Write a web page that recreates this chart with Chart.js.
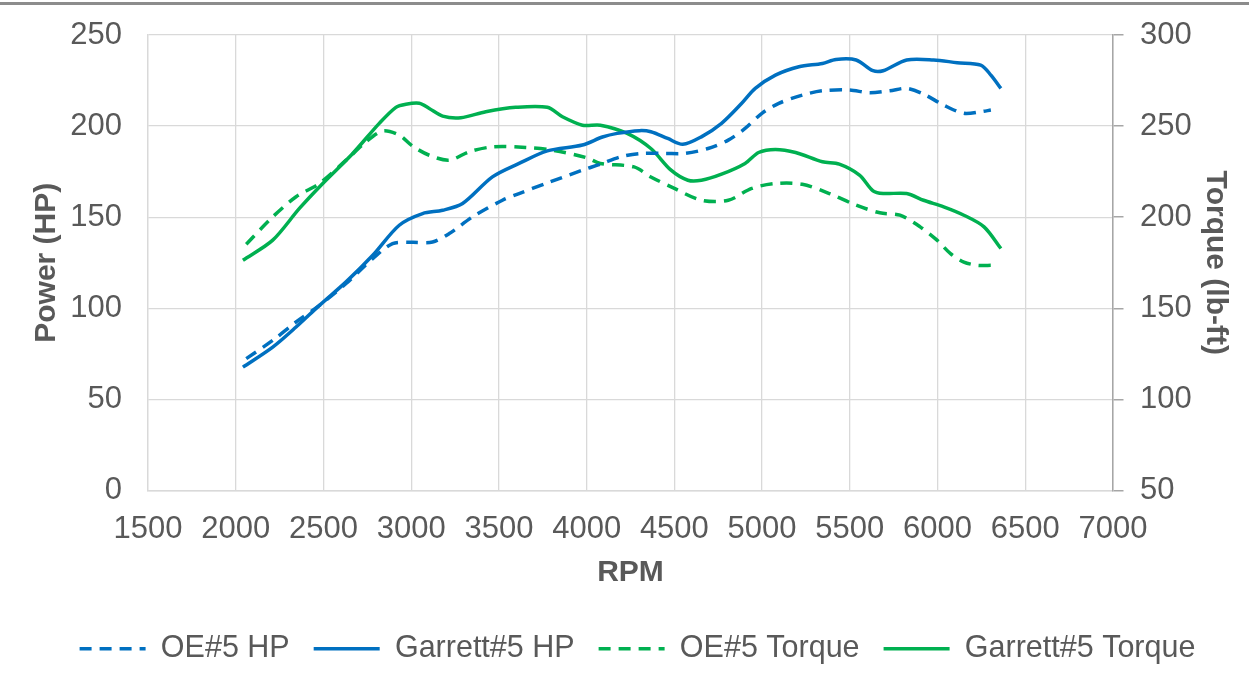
<!DOCTYPE html>
<html>
<head>
<meta charset="utf-8">
<title>Power and Torque vs RPM</title>
<script src="https://cdn.jsdelivr.net/npm/chart.js@4.4.1/dist/chart.umd.min.js"></script>
<style>
    html, body { margin: 0; padding: 0; background: #ffffff; }
    #wrap { position: relative; width: 1249px; height: 687px; }
    #topRule { position: absolute; left: 0; top: 2px; width: 1249px; height: 3px; background: #8c8c8c; }
    canvas { position: absolute; left: 0; top: 0; }
</style>
</head>
<body>
<div id="wrap">
    <canvas id="dyno-chart" width="1249" height="687"></canvas>
    <div id="topRule"></div>
</div>
<script>
// Dyno comparison - OE#5 vs Garrett#5, power (left axis) and torque (right axis)

const SERIES_LABELS = ['OE#5 HP', 'Garrett#5 HP', 'OE#5 Torque', 'Garrett#5 Torque'];

// OE#5 HP
const oeHpRpm = [2060, 2211, 2344, 2477, 2629, 2781, 2894, 3000, 3122, 3217, 3350, 3520, 3615, 3767,
    3976, 4078, 4193, 4308, 4450, 4558, 4692, 4807, 4903, 4999, 5095, 5229, 5344, 5498, 5613, 5728,
    5824, 5920, 6035, 6150, 6246, 6304];
const oeHpValues = [72.4, 82.4, 92.5, 101.6, 113.6, 127.3, 135.5, 136.2, 136.4, 141, 150.2, 159.3, 163, 168.5,
    175.8, 179.1, 183.1, 185, 185, 185, 187.7, 192.3, 198.7, 207, 212.5, 217, 219.4, 219.8, 218.3, 219.4,
    220.7, 217.6, 211.5, 207, 207.9, 208.8];

// Garrett#5 HP
const garrettHpRpm = [2041, 2211, 2344, 2477, 2629, 2781, 2932, 3065, 3179, 3293, 3463, 3615, 3776, 3976,
    4090, 4174, 4300, 4366, 4462, 4548, 4654, 4769, 4884, 4961, 5076, 5210, 5344, 5421, 5536, 5632,
    5690, 5824, 5978, 6112, 6246, 6304, 6361];
const garrettHpValues = [67.7, 78.7, 89.7, 101.6, 114.5, 129.1, 145.6, 152, 153.8, 157.5, 172.1, 179.5, 186.4, 189.6,
    194, 196, 197.5, 196.9, 193.2, 190, 194.1, 201.5, 212.5, 220.7, 228, 232.6, 234.4, 236.6, 236.3, 230.4,
    230.4, 236.3, 236.3, 234.8, 233.5, 228, 220.7];

// OE#5 Torque (lb-ft)
const oeTorqueRpm = [2060, 2211, 2344, 2477, 2629, 2743, 2837, 2932, 3008, 3103, 3217, 3331, 3463, 3653,
    3805, 3995, 4078, 4270, 4366, 4500, 4654, 4807, 4941, 5076, 5229, 5383, 5536, 5671, 5786, 5901,
    5997, 6074, 6150, 6227, 6313];
const oeTorqueValues = [185.2, 200.2, 211.2, 218.5, 231.3, 241.4, 247.3, 245, 239, 234, 231.3, 235.9, 238.6, 238.3,
    236.8, 232.8, 229.5, 227.6, 222.1, 215.8, 209.3, 209.3, 215.8, 218.5, 218.1, 213, 206.6, 202.4, 201.1, 194.7,
    187.4, 180, 175.4, 173.6, 173.6];

// Garrett#5 Torque (lb-ft)
const garrettTorqueRpm = [2041, 2211, 2363, 2496, 2667, 2818, 2913, 2970, 3046, 3103, 3179, 3283, 3425, 3596,
    3776, 3862, 3976, 4078, 4231, 4366, 4481, 4577, 4654, 4769, 4903, 4980, 5076, 5191, 5344, 5440,
    5555, 5632, 5690, 5824, 5920, 6035, 6150, 6265, 6361];
const garrettTorqueValues = [176.4, 187.4, 204.8, 218.5, 235, 251.5, 260.3, 262, 262.5, 259.7, 255.5, 254.6, 257.9, 260.3,
    260.3, 255.1, 250.5, 250.5, 246, 237.7, 225.8, 220.3, 220.3, 223.6, 229.5, 235.5, 237.2, 235.5, 230.4, 229.1,
    223.1, 214.5, 213, 213, 209.3, 205.7, 201.1, 194.7, 182.8];

// Axis ranges / ticks
const RPM_MIN = 1500, RPM_MAX = 7000, RPM_STEP = 500;
const HP_MIN = 0, HP_MAX = 250, HP_STEP = 50;
const TQ_MIN = 50, TQ_MAX = 300, TQ_STEP = 50;

const BLUE = '#0070C0';
const GREEN = '#00B050';
const TEXT = '#595959';
const GRID = '#d9d9d9';
const AXIS = '#a6a6a6';
const FONT = "'Liberation Sans', Arial, sans-serif";
const LINE_WIDTH = 3.5;
const DASH = [12, 8];

function toPoints(xs, ys) {
    return xs.map((x, i) => ({ x: x, y: ys[i] }));
}

function makeSeries(label, xs, ys, color, dashed, axis) {
    return {
        label: label,
        data: toPoints(xs, ys),
        yAxisID: axis,
        borderColor: color,
        backgroundColor: color,
        borderWidth: LINE_WIDTH,
        borderDash: dashed ? DASH : [],
        pointRadius: 0,
        fill: false,
        tension: 0.3
    };
}

// plain numbers, no thousands separator
function plainTick(value) {
    return String(value);
}

function initializeDynoChart() {
    const ctx = document.getElementById('dyno-chart').getContext('2d');

    Chart.defaults.font.family = FONT;
    Chart.defaults.color = TEXT;

    const defaultLabels = Chart.defaults.plugins.legend.labels.generateLabels;

    new Chart(ctx, {
        type: 'line',
        data: {
            datasets: [
                makeSeries(SERIES_LABELS[0], oeHpRpm, oeHpValues, BLUE, true, 'y'),
                makeSeries(SERIES_LABELS[1], garrettHpRpm, garrettHpValues, BLUE, false, 'y'),
                makeSeries(SERIES_LABELS[2], oeTorqueRpm, oeTorqueValues, GREEN, true, 'y1'),
                makeSeries(SERIES_LABELS[3], garrettTorqueRpm, garrettTorqueValues, GREEN, false, 'y1')
            ]
        },
        options: {
            responsive: false,
            animation: false,
            layout: {
                padding: { left: 26, right: 0, top: 35, bottom: 13 }
            },
            plugins: {
                tooltip: { enabled: false },
                legend: {
                    position: 'bottom',
                    labels: {
                        color: TEXT,
                        font: { size: 30.5, family: FONT },
                        usePointStyle: true,
                        pointStyle: 'line',
                        pointStyleWidth: 66,
                        padding: 24,
                        // point style legend ignores the line dash, so copy it from the dataset
                        generateLabels: function(chart) {
                            return defaultLabels(chart).map(item => {
                                const ds = chart.data.datasets[item.datasetIndex];
                                item.lineDash = ds.borderDash;
                                item.lineWidth = LINE_WIDTH;
                                item.strokeStyle = ds.borderColor;
                                return item;
                            });
                        }
                    }
                }
            },
            scales: {
                x: {
                    type: 'linear',
                    min: RPM_MIN,
                    max: RPM_MAX,
                    afterFit: function(scale) { scale.height = 119; },
                    grid: { color: GRID, lineWidth: 1.3, drawTicks: false },
                    border: { color: GRID, width: 1.5 },
                    ticks: {
                        stepSize: RPM_STEP,
                        color: TEXT,
                        padding: 20,
                        maxRotation: 0,
                        font: { size: 31 },
                        callback: plainTick
                    },
                    title: {
                        display: true,
                        text: 'RPM',
                        color: TEXT,
                        font: { size: 30, weight: 'bold' },
                        padding: { top: 0, bottom: 19 }
                    }
                },
                y: {
                    position: 'left',
                    min: HP_MIN,
                    max: HP_MAX,
                    afterFit: function(scale) { scale.width = 122; },
                    // invisible tick marks only push the labels away from the plot
                    grid: { color: GRID, lineWidth: 1.3, drawTicks: true, tickLength: 23, tickColor: 'rgba(0,0,0,0)' },
                    border: { color: GRID, width: 1.3 },
                    ticks: {
                        stepSize: HP_STEP,
                        color: TEXT,
                        padding: 3,
                        font: { size: 31 },
                        callback: plainTick
                    },
                    title: {
                        display: true,
                        text: 'Power (HP)',
                        color: TEXT,
                        font: { size: 30, weight: 'bold' },
                        padding: { top: 3, bottom: 0 }
                    }
                },
                y1: {
                    position: 'right',
                    min: TQ_MIN,
                    max: TQ_MAX,
                    afterFit: function(scale) { scale.width = 136; },
                    // 10px visible tick, rest of the length is a gap before the labels
                    grid: { drawOnChartArea: false, color: AXIS, lineWidth: 1.5, tickLength: 24, tickBorderDash: [10, 40] },
                    border: { color: AXIS, width: 1.5 },
                    ticks: {
                        stepSize: TQ_STEP,
                        color: TEXT,
                        padding: 3,
                        font: { size: 31 },
                        callback: plainTick
                    },
                    title: {
                        display: true,
                        text: 'Torque (lb-ft)',
                        color: TEXT,
                        font: { size: 30, weight: 'bold' },
                        padding: { top: 16, bottom: 0 }
                    }
                }
            }
        }
    });
}

document.addEventListener('DOMContentLoaded', initializeDynoChart);
</script>
</body>
</html>
